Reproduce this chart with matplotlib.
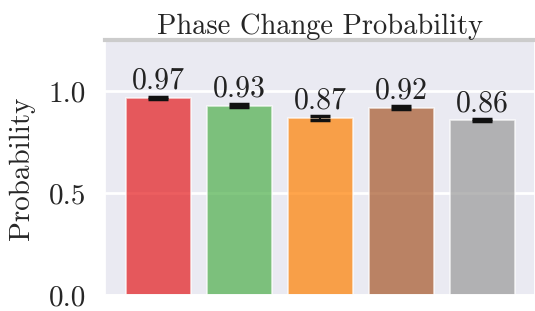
import matplotlib
matplotlib.use("Agg")
import matplotlib.pyplot as plt
import seaborn as sns
import numpy as np

# valeurs
categories = ["A", "B", "C", "D", "E"]
probabilities = [0.97, 0.93, 0.87, 0.92, 0.86]
errors = [0.005, 0.007, 0.010, 0.007, 0.005]
labels = ["0.97", "0.93", "0.87", "0.92", "0.86"]

sns.set_theme(style="darkgrid")
plt.rcParams["font.family"] = ["cmr10"]
plt.rcParams["mathtext.fontset"] = "cm"
plt.rcParams["axes.formatter.use_mathtext"] = True

set1 = plt.get_cmap("Set1").colors
colors = [set1[0], set1[2], set1[4], set1[6], set1[8]]

fig, ax = plt.subplots(figsize=(5.35, 3.11), dpi=100)
fig.subplots_adjust(left=0.197, right=1.0, bottom=0.05, top=0.87)

x = np.arange(len(categories))
bars = ax.bar(x, probabilities, width=0.8, color=colors, alpha=0.7,
              edgecolor="white", linewidth=1.2,
              yerr=errors, capsize=7.5,
              error_kw=dict(ecolor="#111111", elinewidth=1.5, capthick=2.5))

for xi, p, e, lab in zip(x, probabilities, errors, labels):
    ax.text(xi, p + e + 0.008, lab, ha="center", va="bottom", fontsize=21.5, color="#222222")

ax.set_xlim(-0.65, 4.65)
ax.set_ylim(0, 1.25)
ax.set_yticks([0.0, 0.5, 1.0])
ax.set_yticklabels(["0.0", "0.5", "1.0"])
ax.set_xticks(x)
ax.set_xticklabels([])
ax.tick_params(axis="y", labelsize=21, pad=8)
ax.set_ylabel("Probability", fontsize=21, labelpad=10)
ax.set_title("Phase Change Probability", fontsize=20.5, pad=4)
ax.grid(axis="y", color="white", linewidth=2)
ax.grid(axis="x", visible=False)

ax.spines["top"].set_visible(True)
ax.spines["top"].set_color("#cccccc")
ax.spines["top"].set_linewidth(3)

plt.savefig("out.png", dpi=100)
